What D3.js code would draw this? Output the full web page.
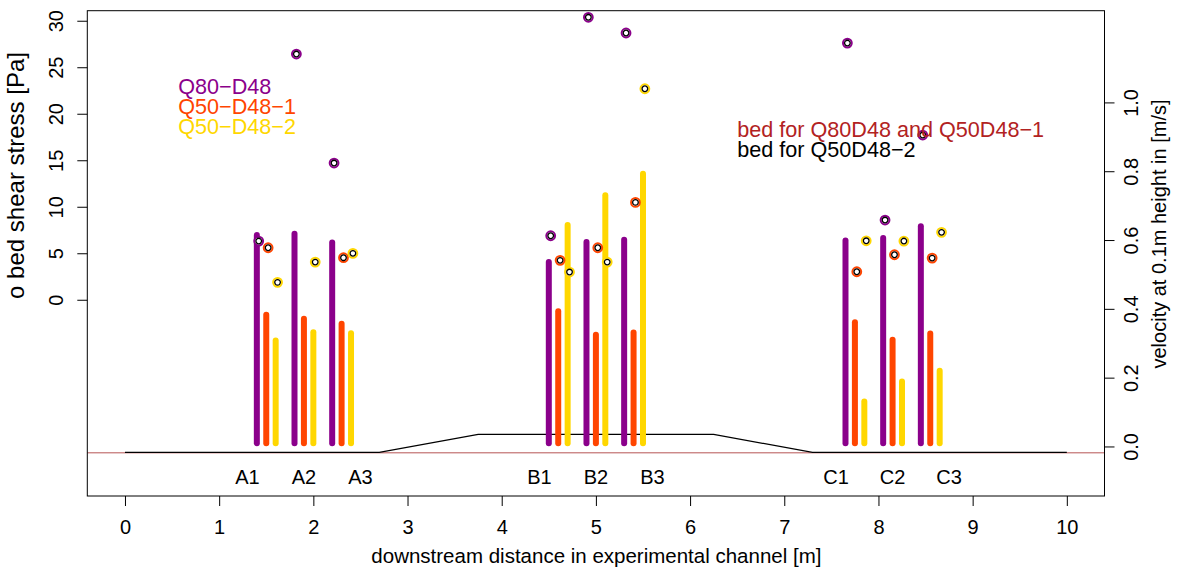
<!DOCTYPE html>
<html>
<head>
<meta charset="utf-8">
<script src="https://cdn.jsdelivr.net/npm/d3@7"></script>
<style>
  body { margin: 0; background: #fff; }
  svg { display: block; font-family: "Liberation Sans", Arial, sans-serif; }
</style>
</head>
<body>
<div id="fig"></div>
<script>
const width = 1178
const height = 569

// sampling positions [m] of the three bars in each profile, then series offset
const profiles = ['A1', 'A2', 'A3', 'B1', 'B2', 'B3', 'C1', 'C2', 'C3']
const profilePos = [1.4, 1.8, 2.2, 4.5, 4.9, 5.3, 7.65, 8.05, 8.45]
const labelPos = [1.3, 1.9, 2.5, 4.4, 5.0, 5.6, 7.55, 8.15, 8.75]

const seriesNames = ['Q80\u2212D48', 'Q50\u2212D48\u22121', 'Q50\u2212D48\u22122']
const seriesColors = ['#8B008B', '#FF4500', '#FFD700']
const seriesOffset = [0, 0.1, 0.2]

// velocity at 0.1 m height [m/s]
const velQ80 = [0.615, 0.618, 0.593, 0.536, 0.594, 0.601, 0.599, 0.606, 0.640]
const velQ50a = [0.383, 0.371, 0.357, 0.393, 0.325, 0.331, 0.361, 0.310, 0.328]
const velQ50b = [0.308, 0.332, 0.329, 0.644, 0.730, 0.793, 0.131, 0.189, 0.220]

// bed shear stress [Pa]
const tauQ80 = [6.31, 26.42, 14.70, 6.88, 30.37, 28.68, 27.6, 8.57, 17.71]
const tauQ50a = [5.59, null, 4.52, 4.24, 5.59, 10.47, 3.01, 4.84, 4.48]
const tauQ50b = [1.87, 4.05, 4.99, 2.98, 4.05, 22.69, 6.34, 6.31, 7.25]

// bed outline (in velocity-axis units)
const bedX = [0, 2.7, 3.75, 6.25, 7.3, 10]
const bedY = [-0.017, -0.017, 0.035, 0.035, -0.017, -0.017]
const bedFlat = -0.0185

const xTicks = [0, 1, 2, 3, 4, 5, 6, 7, 8, 9, 10]
const tauTicks = [0, 5, 10, 15, 20, 25, 30]
const velTicks = [0, 0.2, 0.4, 0.6, 0.8, 1.0]
const barBase = 0.009

const box = {left: 87.3, right: 1104.5, top: 10.7, bottom: 496}

const xScale = d3.scaleLinear().domain([-0.4, 10.4]).range([box.left, box.right])
const tauScale = d3.scaleLinear().domain([-21.1, 31.08]).range([box.bottom, box.top])
const velScale = d3.scaleLinear().domain([-0.144, 1.2666]).range([box.bottom, box.top])

const fig = d3.select('#fig')
            .append('svg')
            .attr('width', width)
            .attr('height', height)

const vel = [velQ80, velQ50a, velQ50b]
const tau = [tauQ80, tauQ50a, tauQ50b]

// bed lines
fig.append('line')
   .attr('x1', box.left).attr('x2', box.right)
   .attr('y1', velScale(bedFlat)).attr('y2', velScale(bedFlat))
   .attr('stroke', '#A52A2A').attr('stroke-opacity', 0.8).attr('stroke-width', 1)

fig.append('path')
   .datum(bedX.map((d, i) => [d, bedY[i]]))
   .attr('d', d3.line().x(d => xScale(d[0])).y(d => velScale(d[1])))
   .attr('fill', 'none')
   .attr('stroke', 'black')
   .attr('stroke-width', 1.2)

// velocity bars
const bars = []
vel.forEach((s, k) => s.forEach((v, i) => bars.push({pos: profilePos[i] + seriesOffset[k], v: v, col: seriesColors[k]})))

fig.selectAll('line.bar')
   .data(bars)
   .enter()
   .append('line')
   .attr('class', 'bar')
   .attr('x1', d => xScale(d.pos)).attr('x2', d => xScale(d.pos))
   .attr('y1', velScale(barBase))
   .attr('y2', d => velScale(d.v))
   .attr('stroke', d => d.col)
   .attr('stroke-width', 6)
   .attr('stroke-linecap', 'round')

// shear stress points
const pts = []
tau.forEach((s, k) => s.forEach((t, i) => {
    if (t !== null) pts.push({pos: profilePos[i] + seriesOffset[k] + 0.02, t: t, col: seriesColors[k]})
}))

const pg = fig.selectAll('g.pt')
   .data(pts)
   .enter()
   .append('g')
   .attr('class', 'pt')
   .attr('transform', d => `translate(${xScale(d.pos)},${tauScale(d.t)})`)
pg.append('circle').attr('r', 4.4).attr('fill', 'white').attr('stroke', d => d.col).attr('stroke-width', 2)
pg.append('circle').attr('r', 2.8).attr('fill', 'none').attr('stroke', 'black').attr('stroke-width', 1.3)

// profile labels
fig.selectAll('text.prof')
   .data(profiles)
   .enter()
   .append('text')
   .attr('class', 'prof')
   .attr('x', (d, i) => xScale(labelPos[i]))
   .attr('y', 484.3)
   .attr('text-anchor', 'middle')
   .attr('font-size', 20)
   .text(d => d)

// legend
fig.selectAll('text.leg')
   .data(seriesNames)
   .enter()
   .append('text')
   .attr('class', 'leg')
   .attr('x', 178.3)
   .attr('y', (d, i) => 94.3 + i * 20)
   .attr('font-size', 21.6)
   .attr('fill', (d, i) => seriesColors[i])
   .text(d => d)

fig.append('text').attr('x', 737.3).attr('y', 137).attr('font-size', 21.6)
   .attr('fill', '#B22222').text('bed for Q80D48 and Q50D48\u22121')
fig.append('text').attr('x', 737.3).attr('y', 156.5).attr('font-size', 21.6)
   .attr('fill', 'black').text('bed for Q50D48\u22122')

// axes
const styleAxis = g => {
    g.select('.domain').remove()
    g.selectAll('line').attr('stroke', 'black')
    g.selectAll('text').attr('font-size', 20).attr('font-family', null).attr('fill', 'black')
}

fig.append('g')
   .attr('transform', `translate(0,${box.bottom})`)
   .call(d3.axisBottom(xScale).tickValues(xTicks).tickSize(10).tickSizeOuter(0))
   .call(styleAxis)
   .call(g => g.selectAll('text').attr('y', 37.5).attr('dy', null))

fig.append('g')
   .attr('transform', `translate(${box.left},0)`)
   .call(d3.axisLeft(tauScale).tickValues(tauTicks).tickSize(10).tickSizeOuter(0))
   .call(styleAxis)
   .call(g => g.selectAll('text')
       .attr('x', null).attr('dy', null)
       .attr('text-anchor', 'middle')
       .attr('transform', 'translate(-24,0) rotate(-90)'))

fig.append('g')
   .attr('transform', `translate(${box.right},0)`)
   .call(d3.axisRight(velScale).tickValues(velTicks).tickFormat(d3.format('.1f')).tickSize(10).tickSizeOuter(0))
   .call(styleAxis)
   .call(g => g.selectAll('text')
       .attr('x', null).attr('dy', null)
       .attr('text-anchor', 'middle')
       .attr('transform', 'translate(33.8,0) rotate(-90)'))

fig.append('rect')
   .attr('x', box.left).attr('y', box.top)
   .attr('width', box.right - box.left).attr('height', box.bottom - box.top)
   .attr('fill', 'none').attr('stroke', 'black').attr('stroke-width', 1)

// axis titles
fig.append('text')
   .attr('x', (box.left + box.right) / 2 + 0.5).attr('y', 562.7)
   .attr('text-anchor', 'middle').attr('font-size', 20.5)
   .text('downstream distance in experimental channel [m]')

fig.append('text')
   .attr('transform', 'translate(24.2,175.5) rotate(-90)')
   .attr('text-anchor', 'middle').attr('font-size', 24)
   .text('o bed shear stress [Pa]')

fig.append('text')
   .attr('transform', 'translate(1166,234) rotate(-90)')
   .attr('text-anchor', 'middle').attr('font-size', 20)
   .text('velocity at 0.1m height in [m/s]')
</script>
</body>
</html>
